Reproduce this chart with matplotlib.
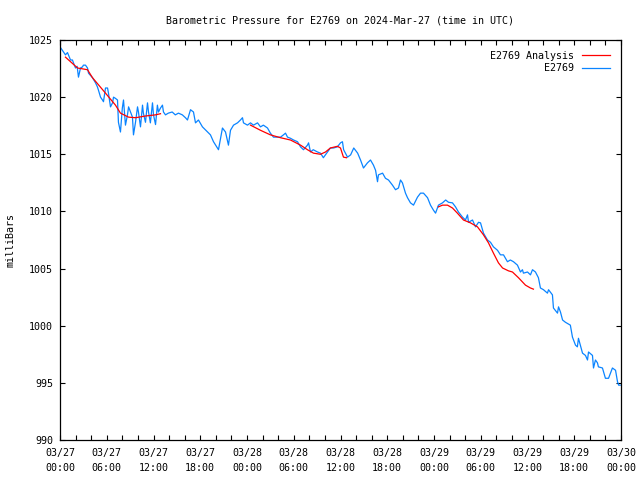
"""Barometric pressure trace for station E2769, gnuplot-style."""

import matplotlib

matplotlib.use("Agg")
import matplotlib.pyplot as plt
import numpy as np

# hours since 2024-03-27 00:00 UTC, pressure in mbar
obs_hours = [
    0.0, 0.7, 0.96, 1.35, 1.6, 1.73, 1.99, 2.2, 2.37, 2.63, 2.89, 3.0, 3.27, 3.53,
    3.66, 4.17, 4.56, 4.8, 4.94, 5.2, 5.45, 5.58, 5.84, 6.1, 6.22, 6.48, 6.74, 6.87,
    7.1, 7.38, 7.5, 7.76, 8.0, 8.15, 8.4, 8.66, 8.8, 9.05, 9.3, 9.43, 9.69, 9.95,
    10.07, 10.33, 10.59, 10.7, 10.97, 11.23, 11.36, 11.6, 11.87, 12.0, 12.26, 12.5,
    12.64, 12.9, 13.15, 13.28, 13.54, 13.9, 14.4, 14.8, 15.2, 15.7, 16.1, 16.36,
    16.75, 17.13, 17.39, 17.77, 18.28, 18.93, 19.31, 19.7, 20.2, 20.34, 20.85,
    21.24, 21.62, 21.88, 22.27, 22.78, 23.16, 23.42, 23.55, 24.06, 24.45, 24.83,
    25.35, 25.73, 26.1, 26.63, 27.0, 27.4, 27.9, 28.3, 28.68, 28.94, 29.2, 29.58,
    29.97, 30.48, 30.87, 31.25, 31.76, 31.9, 32.15, 32.5, 33.05, 33.43, 33.8, 34.33,
    34.7, 35.1, 35.6, 36.0, 36.25, 36.4, 36.9, 37.3, 37.7, 38.2, 38.57, 38.95, 39.46,
    39.85, 40.23, 40.5, 40.75, 40.87, 41.4, 41.77, 42.16, 42.67, 43.06, 43.44, 43.7,
    43.95, 44.34, 44.6, 44.98, 45.37, 45.88, 46.27, 46.65, 47.17, 47.55, 47.94,
    48.2, 48.57, 49.09, 49.5, 49.86, 50.37, 50.76, 51.14, 51.66, 52.04, 52.3, 52.43,
    52.94, 53.33, 53.71, 53.97, 54.35, 54.86, 55.25, 55.63, 56.15, 56.53, 56.92,
    57.17, 57.43, 57.8, 58.2, 58.71, 59.1, 59.35, 59.48, 60.0, 60.38, 60.64, 61.02,
    61.4, 61.66, 62.05, 62.56, 62.7, 63.2, 63.33, 63.85, 63.98, 64.23, 64.5, 64.87,
    65.5, 65.77, 66.16, 66.4, 66.54, 67.06, 67.44, 67.7, 67.83, 68.34, 68.47, 68.72,
    68.98, 69.1, 69.62, 70.0, 70.4, 70.9, 71.3, 71.55, 71.7, 71.9,
]
obs_pressure = [
    1024.4, 1023.7, 1023.9, 1023.25, 1023.25, 1023.0, 1022.55, 1022.7, 1021.75,
    1022.55, 1022.65, 1022.8, 1022.8, 1022.55, 1022.1, 1021.7, 1021.25, 1020.9,
    1020.6, 1020.0, 1019.75, 1019.6, 1020.8, 1020.8, 1020.35, 1019.15, 1019.5,
    1020.0, 1019.9, 1019.75, 1017.8, 1016.95, 1019.05, 1019.75, 1017.55, 1018.45,
    1019.15, 1018.7, 1018.25, 1016.7, 1017.8, 1019.15, 1018.7, 1017.4, 1019.3,
    1018.6, 1017.8, 1019.5, 1018.7, 1017.75, 1019.5, 1018.45, 1017.6, 1019.3,
    1018.7, 1019.05, 1019.3, 1018.7, 1018.45, 1018.6, 1018.7, 1018.45, 1018.6,
    1018.45, 1018.2, 1018.0, 1018.9, 1018.7, 1017.75, 1018.0, 1017.4, 1016.95,
    1016.7, 1016.1, 1015.55, 1015.4, 1017.3, 1016.95, 1015.8, 1017.1, 1017.55,
    1017.75, 1018.0, 1018.2, 1017.75, 1017.55, 1017.75, 1017.55, 1017.75, 1017.4,
    1017.55, 1017.3, 1016.85, 1016.5, 1016.5, 1016.5, 1016.7, 1016.85, 1016.5,
    1016.4, 1016.25, 1016.1, 1015.65, 1015.4, 1015.8, 1016.0, 1015.2, 1015.4,
    1015.2, 1015.1, 1014.7, 1015.2, 1015.55, 1015.55, 1015.65, 1016.0, 1016.1,
    1015.4, 1014.75, 1014.95, 1015.55, 1015.1, 1014.5, 1013.8, 1014.25, 1014.5,
    1014.05, 1013.6, 1012.6, 1013.2, 1013.35, 1012.9, 1012.75, 1012.3, 1011.9,
    1012.05, 1012.75, 1012.5, 1011.6, 1011.2, 1010.75, 1010.55, 1011.25, 1011.6,
    1011.6, 1011.2, 1010.55, 1010.1, 1009.85, 1010.55, 1010.75, 1011.0, 1010.8,
    1010.75, 1010.4, 1009.95, 1009.5, 1009.25, 1009.7, 1009.05, 1009.25, 1008.65,
    1009.05, 1009.0, 1008.1, 1007.5, 1007.3, 1006.9, 1006.6, 1006.2, 1006.2,
    1005.9, 1005.6, 1005.75, 1005.6, 1005.3, 1004.7, 1004.9, 1004.6, 1004.7,
    1004.45, 1004.9, 1004.7, 1004.2, 1003.3, 1003.15, 1002.85, 1003.15, 1002.7,
    1001.55, 1001.1, 1001.65, 1001.2, 1000.5, 1000.3, 1000.05, 999.0, 998.3,
    998.15, 998.9, 997.6, 997.4, 997.0, 997.7, 997.4, 996.3, 997.0, 996.75, 996.4,
    996.3, 995.4, 995.4, 996.3, 996.1, 995.1, 994.8, 994.8,
]

# analysis segments (NaN separates the gaps)
ana_hours = [
    0.7, 2.25, 3.53, 4.17, 5.84, 7.12, 7.76, 8.8, 9.7, 10.97, 12.26, 12.9, np.nan,
    24.45, 25.73, 27.0, 28.3, 29.58, 30.87, 31.76, 32.53, 33.43, 34.07, 34.7, 35.6,
    36.0, 36.38, 36.77, np.nan,
    48.57, 49.09, 49.73, 50.37, 51.0, 51.78, 52.68, 53.58, 54.35, 54.99, 55.63,
    56.27, 56.8, 57.56, 58.07, 58.84, 59.74, 60.38, 60.76,
]
ana_pressure = [
    1023.5, 1022.55, 1022.4, 1021.7, 1020.35, 1019.3, 1018.6, 1018.25, 1018.2,
    1018.35, 1018.45, 1018.55, np.nan,
    1017.55, 1017.1, 1016.7, 1016.45, 1016.25, 1015.8, 1015.4, 1015.1, 1015.0,
    1015.2, 1015.55, 1015.7, 1015.55, 1014.75, 1014.7, np.nan,
    1010.4, 1010.55, 1010.55, 1010.3, 1009.85, 1009.25, 1009.0, 1008.65, 1007.95,
    1007.25, 1006.35, 1005.5, 1005.05, 1004.8, 1004.7, 1004.2, 1003.55, 1003.3,
    1003.2,
]

tick_days = ["03/27", "03/28", "03/29", "03/30"]
tick_times = ["00:00", "06:00", "12:00", "18:00"]

plt.rcParams["font.family"] = "DejaVu Sans Mono"
plt.rcParams["font.size"] = 7.2

fig = plt.figure(figsize=(6.4, 4.8), dpi=100)
ax = fig.add_axes([60 / 640, 40 / 480, 561 / 640, 400 / 480])

ax.plot(obs_hours, obs_pressure, color="#0a84ff", lw=0.9, label="E2769", zorder=2)
ax.plot(ana_hours, ana_pressure, color="#ff0000", lw=0.9, label="E2769 Analysis",
        zorder=3)

ax.set_xlim(0, 72)
ax.set_ylim(990, 1025)

major = np.arange(0, 73, 6)
labels = [f"{tick_days[h // 24]}\n{tick_times[(h % 24) // 6]}" for h in major]
ax.set_xticks(major)
ax.set_xticklabels(labels, linespacing=1.6)
ax.set_xticks(np.arange(0, 73, 2), minor=True)
ax.set_yticks(np.arange(990, 1026, 5))

for which in ("major", "minor"):
    ax.tick_params(axis="both", which=which, direction="in", length=3.5, width=0.8,
                   top=True, right=True, color="black")
ax.tick_params(axis="x", which="minor", labelbottom=False)
ax.tick_params(axis="x", pad=6)
ax.tick_params(axis="y", pad=5)
for sp in ax.spines.values():
    sp.set_linewidth(0.9)

ax.set_ylabel("milliBars", labelpad=10)
ax.set_title("Barometric Pressure for E2769 on 2024-Mar-27 (time in UTC)",
             fontsize=7.2, pad=12)

handles, labs = ax.get_legend_handles_labels()
ax.legend(handles[::-1], labs[::-1], loc="upper right", frameon=False,
          markerfirst=False, handlelength=2.8, handletextpad=0.8,
          borderaxespad=0.7, labelspacing=0.25)

fig.savefig("out.png", dpi=100)
